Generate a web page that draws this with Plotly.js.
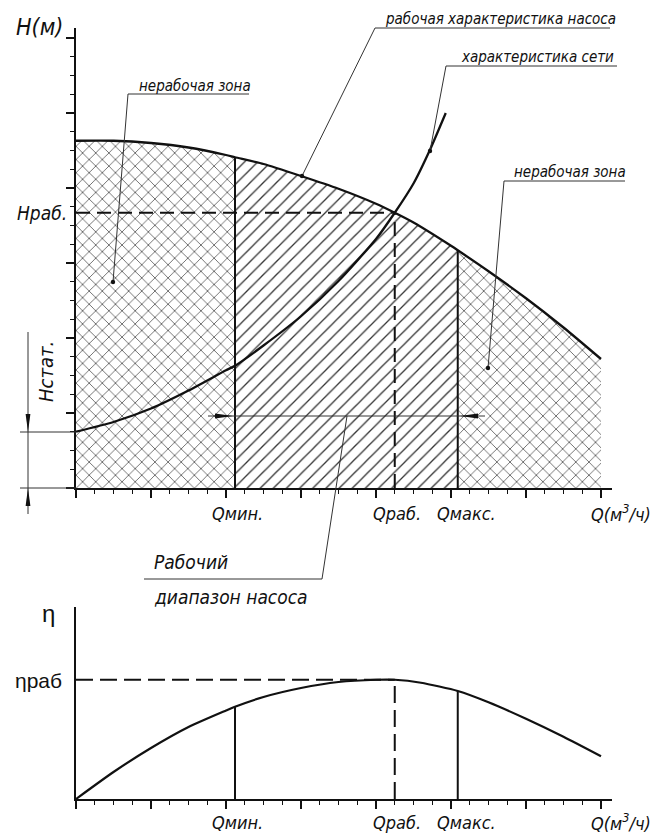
<!DOCTYPE html>
<html><head><meta charset="utf-8">
<script src="https://cdn.plot.ly/plotly-3.0.1.min.js"></script>
<style>html,body{margin:0;padding:0;background:#fff}</style>
</head><body><div id="chart" style="width:661px;height:834px"></div>
<script>
// ---- data (units: one major tick division = 1) ----
const Q_MIN = 2.12, Q_RAB = 4.25, Q_MAX = 5.09;
const H_RAB = 3.67, ETA_RAB = 1.59;
const pumpQ = [0, 0.5, 1, 1.5, 2, 2.12, 2.5, 3, 3.5, 4, 4.25, 4.5, 5, 5.09, 5.5, 6, 6.5, 7];
const pumpH = [4.63, 4.63, 4.60, 4.54, 4.44, 4.41, 4.32, 4.16, 3.99, 3.79, 3.67, 3.54, 3.23, 3.17, 2.89, 2.53, 2.14, 1.72];
const netQ = [0, 0.5, 1, 1.5, 2, 2.12, 2.5, 3, 3.5, 4, 4.25, 4.5, 4.72, 4.93];
const netH = [0.75, 0.88, 1.06, 1.30, 1.57, 1.63, 1.90, 2.29, 2.76, 3.32, 3.67, 4.06, 4.51, 5.0];
const etaQ = [0, 0.5, 1, 1.5, 2, 2.12, 2.5, 3, 3.5, 4, 4.25, 4.6, 5.09, 5.5, 6, 6.5, 7];
const etaV = [0, 0.36, 0.68, 0.96, 1.18, 1.23, 1.36, 1.48, 1.56, 1.59, 1.59, 1.55, 1.44, 1.29, 1.07, 0.83, 0.57];

// ---- helpers ----
const INK = '#111';
const FONT = "'Liberation Sans Narrow', 'DejaVu Sans Condensed', 'Arial Narrow', 'Liberation Sans', sans-serif";
const valAt = (xs, ys, q) => ys[xs.indexOf(q)];

function region(a, b, shape) {
  const idx = pumpQ.map((q, i) => i).filter(i => pumpQ[i] >= a && pumpQ[i] <= b);
  return {
    type: 'scatter', xaxis: 'x', yaxis: 'y', hoverinfo: 'skip',
    x: idx.map(i => pumpQ[i]), y: idx.map(i => pumpH[i]),
    mode: 'lines', line: {width: 0, shape: 'spline', smoothing: 0.6},
    fill: 'tozeroy', fillcolor: 'rgba(0,0,0,0)',
    fillpattern: {shape: shape, size: 9.3, solidity: 0.14, fgcolor: '#333', bgcolor: '#fff', fillmode: 'replace'}
  };
}
function seg(x, y, ax, ay, extra) {
  return Object.assign({type: 'scatter', mode: 'lines', x: x, y: y, xaxis: ax, yaxis: ay,
    hoverinfo: 'skip', line: {color: INK, width: 2}}, extra || {});
}

const traces = [
  region(0, Q_MIN, 'x'),
  region(Q_MIN, Q_MAX, '/'),
  region(Q_MAX, 7, 'x'),
  seg(pumpQ, pumpH, 'x', 'y', {line: {color: INK, width: 2.3, shape: 'spline', smoothing: 0.6}}),
  seg(netQ, netH, 'x', 'y', {line: {color: INK, width: 2.3, shape: 'spline', smoothing: 0.6}}),
  seg([Q_MIN, Q_MIN], [0, valAt(pumpQ, pumpH, Q_MIN)], 'x', 'y'),
  seg([Q_MAX, Q_MAX], [0, valAt(pumpQ, pumpH, Q_MAX)], 'x', 'y'),
  seg([Q_RAB, Q_RAB], [0, H_RAB], 'x', 'y', {line: {color: INK, width: 2, dash: '14px,7px'}}),
  seg([0, Q_RAB], [H_RAB, H_RAB], 'x', 'y', {line: {color: INK, width: 2, dash: '14px,7px'}}),
  // efficiency
  seg(etaQ, etaV, 'x2', 'y2', {line: {color: INK, width: 2.2, shape: 'spline', smoothing: 0.6}}),
  seg([Q_MIN, Q_MIN], [0, valAt(etaQ, etaV, Q_MIN)], 'x2', 'y2'),
  seg([Q_MAX, Q_MAX], [0, valAt(etaQ, etaV, Q_MAX)], 'x2', 'y2'),
  seg([Q_RAB, Q_RAB], [0, ETA_RAB], 'x2', 'y2', {line: {color: INK, width: 2, dash: '17px,7px'}}),
  seg([0, Q_RAB], [ETA_RAB, ETA_RAB], 'x2', 'y2', {line: {color: INK, width: 2, dash: '17px,7px'}}),
  {type: 'scatter', x: [], y: [], xaxis: 'x3', yaxis: 'y3', hoverinfo: 'skip'}
];

const axisBase = {
  showline: true, linecolor: INK, linewidth: 2, showgrid: false, zeroline: false,
  showticklabels: false, ticks: 'outside', ticklen: 8, tickwidth: 2, tickcolor: INK,
  tick0: 0, dtick: 1, fixedrange: true,
  minor: {ticks: 'outside', ticklen: 4, tickwidth: 1, tickcolor: INK, tick0: 0, dtick: 0.25, showgrid: false}
};
const W = 661, H = 834;
const XDOM = [76 / W, 612 / W], XR = [0, 536 / 75];

// ---- decorations (pixel overlay axes x3/y3) ----
const thin = {color: '#333', width: 1};
const L = (x0, y0, x1, y1, ln) => ({type: 'line', xref: 'x3', yref: 'y3', x0, y0, x1, y1, line: ln || thin, layer: 'above'});
const DOT = (cx, cy) => ({type: 'circle', xref: 'x3', yref: 'y3', x0: cx - 2.2, x1: cx + 2.2, y0: cy - 2.2, y1: cy + 2.2, fillcolor: INK, line: {width: 0}, layer: 'above'});
const ARW = (p) => ({type: 'path', xref: 'x3', yref: 'y3', path: p, fillcolor: INK, line: {width: 0}, layer: 'above'});

const shapes = [
  L(113, 282, 128, 94), L(128, 94, 249, 94), DOT(113, 282),
  L(302, 176, 375, 28), L(375, 28, 610, 28), DOT(302, 176),
  L(430, 151, 446, 66), L(446, 66, 617, 66), DOT(430, 151),
  L(488, 368, 504, 181), L(504, 181, 625, 181), DOT(488, 368),
  L(208, 416, 485, 416), ARW('M233,416 L215,413.6 L215,418.4 Z'), ARW('M460,416 L478,413.6 L478,418.4 Z'),
  L(347, 416, 322, 579), L(322, 579, 144, 579),
  L(20, 432, 76, 432), L(20, 488, 76, 488), L(28, 332, 28, 514),
  ARW('M28,432 L25.6,414 L30.4,414 Z'), ARW('M28,488 L25.6,506 L30.4,506 Z')
];

function T(text, x, y, size, xanchor, extra) {
  return Object.assign({text, x, y, xref: 'x3', yref: 'y3', showarrow: false,
    xanchor: xanchor || 'left', yanchor: 'middle',
    font: {family: FONT, size: size, color: INK, style: 'italic'}}, extra || {});
}
const annotations = [
  T('H(м)', 39, 27, 23, 'center'),
  T('Hраб.', 69, 213, 19, 'right'),
  T('Hстат.', 46, 372, 20, 'center', {textangle: -90}),
  T('нерабочая зона', 137, 86, 15),
  T('рабочая характеристика насоса', 383, 19, 15),
  T('характеристика сети', 459, 57, 15),
  T('нерабочая зона', 512, 172, 15),
  T('Рабочий', 152, 562, 19),
  T('диапазон насоса', 152, 597, 19),
  T('Qмин.', 237, 513, 18, 'center'),
  T('Qраб.', 397, 513, 18, 'center'),
  T('Qмакс.', 466, 513, 18, 'center'),
  T('Q(м<sup>3</sup>/ч)', 589, 513, 18, 'left'),
  T('Qмин.', 237, 822, 18, 'center'),
  T('Qраб.', 397, 822, 18, 'center'),
  T('Qмакс.', 466, 822, 18, 'center'),
  T('Q(м<sup>3</sup>/ч)', 589, 822, 18, 'left'),
  {text: 'η', x: 48, y: 613, xref: 'x3', yref: 'y3', showarrow: false, xanchor: 'center', yanchor: 'middle',
   font: {family: "'Liberation Sans', sans-serif", size: 24, color: INK}},
  {text: 'ηраб', x: 64, y: 680, xref: 'x3', yref: 'y3', showarrow: false, xanchor: 'right', yanchor: 'middle',
   font: {family: "'Liberation Sans', sans-serif", size: 21, color: INK}}
];

const layout = {
  width: W, height: H, margin: {l: 0, r: 0, t: 0, b: 0},
  paper_bgcolor: '#fff', plot_bgcolor: 'rgba(0,0,0,0)', showlegend: false,
  xaxis: Object.assign({}, axisBase, {domain: XDOM, range: XR, anchor: 'y'}),
  yaxis: Object.assign({}, axisBase, {domain: [(H - 488) / H, (H - 28) / H], range: [0, 460 / 75], anchor: 'x'}),
  xaxis2: Object.assign({}, axisBase, {domain: XDOM, range: XR, anchor: 'y2'}),
  yaxis2: Object.assign({}, axisBase, {domain: [(H - 799) / H, (H - 607) / H], range: [0, 192 / 75], anchor: 'x2',
    ticks: '', minor: {ticks: ''}}),
  xaxis3: {domain: [0, 1], range: [0, W], anchor: 'y3', visible: false, fixedrange: true},
  yaxis3: {domain: [0, 1], range: [H, 0], anchor: 'x3', visible: false, fixedrange: true},
  shapes: shapes,
  annotations: annotations
};

Plotly.newPlot('chart', traces, layout, {staticPlot: true, displayModeBar: false});
</script>
</body></html>
